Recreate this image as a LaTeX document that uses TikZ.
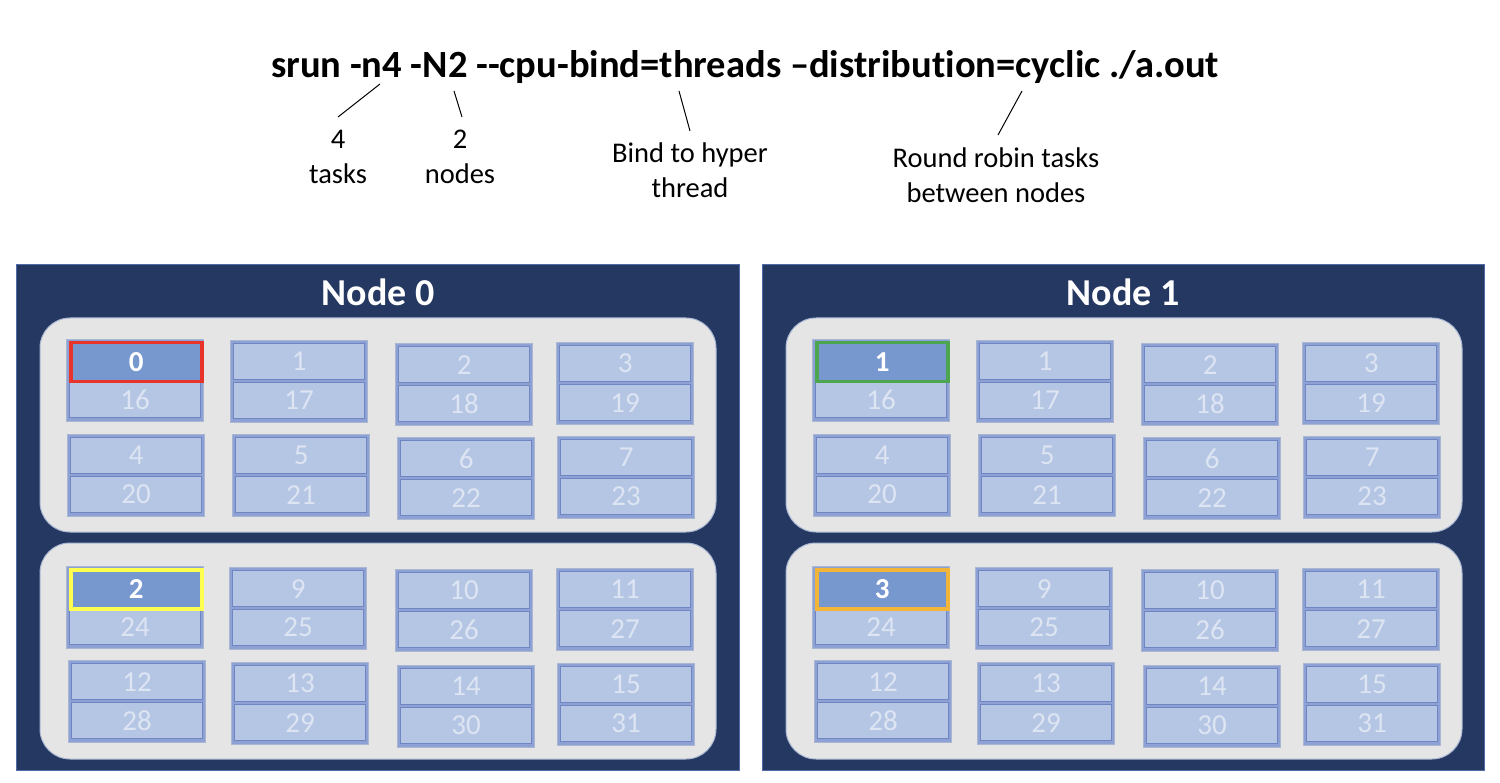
\documentclass[tikz,border=0pt]{standalone}
\usepackage{fontspec}
\setmainfont{Carlito}[Ligatures={NoCommon}]
\definecolor{navy}{HTML}{253862}
\definecolor{navyedge}{HTML}{4F6CA8}
\definecolor{sockfill}{HTML}{E5E5E6}
\definecolor{sockedge}{HTML}{A9B7D3}
\definecolor{coreband}{HTML}{8EA1D5}
\definecolor{cellfill}{HTML}{B5C6E5}
\definecolor{celledge}{HTML}{6F86C2}
\definecolor{celltext}{HTML}{DDE4F2}
\definecolor{hifill}{HTML}{7797CF}
\definecolor{hired}{HTML}{E8332B}
\definecolor{higreen}{HTML}{4CA650}
\definecolor{hiyellow}{HTML}{FFFF50}
\definecolor{hiorange}{HTML}{F2B53A}
\tikzset{
  panel/.style={fill=navy, draw=navyedge, line width=1pt},
  socket/.style={fill=sockfill, draw=sockedge, line width=1pt, rounded corners=30pt},
  coreout/.style={fill=coreband, draw=sockedge, line width=0.8pt, inner sep=0pt, anchor=north west, minimum width=137pt, minimum height=82pt},
  cell/.style={fill=cellfill, draw=celledge, line width=1.3pt, inner sep=0pt, anchor=north west, minimum width=131pt, minimum height=36pt, text=celltext, font=\fontsize{29}{29}\selectfont},
  hicell/.style={fill=hifill, line width=3.5pt, inner sep=0pt, anchor=north west, minimum width=131pt, minimum height=39pt, text=white, font=\bfseries\fontsize{29}{29}\selectfont},
  title/.style={text=white, font=\bfseries\fontsize{38}{38}\selectfont},
  cmd/.style={font=\bfseries\fontsize{38.5}{38.5}\selectfont},
  lbl/.style={font=\fontsize{28.5}{35}\selectfont, align=center},
  leader/.style={draw=black, line width=1pt}
}
% \corebox{name}{x}{y}{top}{bottom}
\newcommand{\corebox}[5]{%
  \node[coreout] (#1) at (#2,#3) {};
  \node[cell] (#1t) at ($(#1.north west)+(3,3)$) {#4};
  \node[cell] (#1b) at ($(#1.north west)+(3,42)$) {#5};
}
% \hibox{name}{x}{y}{top}{bottom}{colour}
\newcommand{\hibox}[6]{%
  \node[coreout] (#1) at (#2,#3) {};
  \node[cell] (#1b) at ($(#1.north west)+(3,42)$) {#5};
  \node[hicell, draw=#6] (#1t) at ($(#1.north west)+(3,2)$) {#4};
}
\usetikzlibrary{calc}
\begin{document}
\begin{tikzpicture}[x=1pt,y=-1pt]
\useasboundingbox (0,0) rectangle (1500,783);
% command line
\node[cmd] (cmdline) at (745,67) {srun -n4 -N2 -{}-cpu-bind=threads –distribution=cyclic ./a.out};
\node[lbl] (ltasks) at (338,157) {4\\tasks};
\node[lbl] (lnodes) at (460,157) {2\\nodes};
\node[lbl] (lbind) at (690,170) {Bind to hyper\\thread};
\node[lbl] (lround) at (996,175) {Round robin tasks\\between nodes};
\coordinate (a1) at (380,84); \coordinate (a2) at (338,117);
\coordinate (b1) at (454,91); \coordinate (b2) at (462,117);
\coordinate (c1) at (679,91); \coordinate (c2) at (690,131);
\coordinate (d1) at (1022,91); \coordinate (d2) at (998,135);
\draw[leader] (a1) -- (a2);
\draw[leader] (b1) -- (b2);
\draw[leader] (c1) -- (c2);
\draw[leader] (d1) -- (d2);
% panels
\draw[panel] (16,265) rectangle (739,770);
\draw[panel] (762,265) rectangle (1484,770);
\node[title] (t0) at (378,292) {Node 0};
\node[title] (t1) at (1123,292) {Node 1};
\draw[socket] (40,318) rectangle (716,532);
\draw[socket] (40,543) rectangle (716,759);
\draw[socket] (786,318) rectangle (1462,532);
\draw[socket] (786,543) rectangle (1462,759);
% Node 0 upper socket
\hibox{pa0}{66}{339}{0}{16}{hired}
\corebox{pa1}{230}{340}{1}{17}
\corebox{pa2}{395}{343}{2}{18}
\corebox{pa3}{556}{342}{3}{19}
\corebox{pa4}{67}{434}{4}{20}
\corebox{pa5}{232}{434}{5}{21}
\corebox{pa6}{397}{437}{6}{22}
\corebox{pa7}{557}{436}{7}{23}
% Node 0 lower socket
\hibox{pb0}{66}{566}{2}{24}{hiyellow}
\corebox{pb1}{229}{567}{9}{25}
\corebox{pb2}{395}{569}{10}{26}
\corebox{pb3}{556}{568}{11}{27}
\corebox{pb4}{68}{660}{12}{28}
\corebox{pb5}{231}{662}{13}{29}
\corebox{pb6}{397}{665}{14}{30}
\corebox{pb7}{557}{663}{15}{31}
% Node 1 upper socket
\hibox{qa0}{812}{339}{1}{16}{higreen}
\corebox{qa1}{976}{340}{1}{17}
\corebox{qa2}{1141}{343}{2}{18}
\corebox{qa3}{1302}{342}{3}{19}
\corebox{qa4}{813}{434}{4}{20}
\corebox{qa5}{978}{434}{5}{21}
\corebox{qa6}{1143}{437}{6}{22}
\corebox{qa7}{1303}{436}{7}{23}
% Node 1 lower socket
\hibox{qb0}{812}{566}{3}{24}{hiorange}
\corebox{qb1}{975}{567}{9}{25}
\corebox{qb2}{1141}{569}{10}{26}
\corebox{qb3}{1302}{568}{11}{27}
\corebox{qb4}{814}{660}{12}{28}
\corebox{qb5}{977}{662}{13}{29}
\corebox{qb6}{1143}{665}{14}{30}
\corebox{qb7}{1303}{663}{15}{31}
\end{tikzpicture}
\end{document}
